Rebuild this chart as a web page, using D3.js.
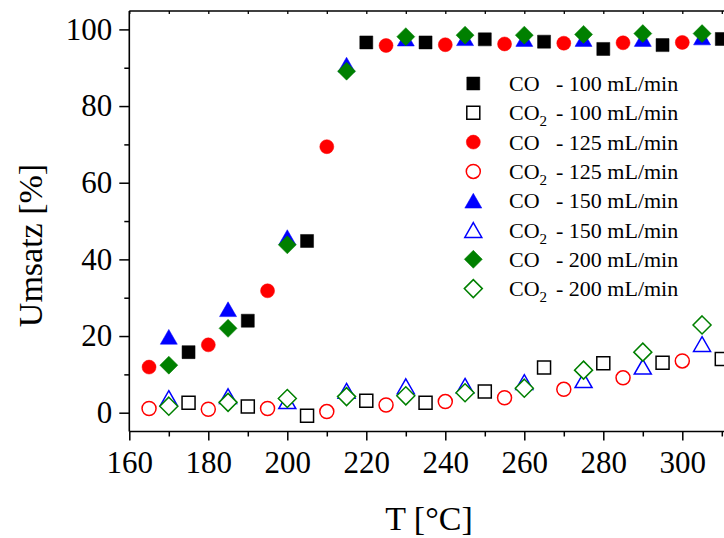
<!DOCTYPE html>
<html>
<head>
<meta charset="utf-8">
<script src="https://cdn.jsdelivr.net/npm/d3@7"></script>
<style>
  html, body { margin: 0; padding: 0; background: #fff; overflow: hidden; }
  svg { display: block; }
  text { font-family: "Liberation Serif", "Times New Roman", Times, serif; fill: #000; }
</style>
</head>
<body>
<svg id="chart" width="724" height="538"></svg>
<script>
// Temperatures (°C) at which each flow rate was measured
const temps100 = [175, 190, 205, 220, 235, 250, 265, 280, 295, 310];
const temps125 = [165, 180, 195, 210, 225, 240, 255, 270, 285, 300];
const temps150 = [170, 185, 200, 215, 230, 245, 260, 275, 290, 305];
const temps200 = [170, 185, 200, 215, 230, 245, 260, 275, 290, 305];

// Conversion (%) of CO and CO2 per flow rate
const co100  = [15.8, 24.0, 44.8, 96.6, 96.6, 97.4, 96.8, 94.9, 95.9, 97.5];
const co2100 = [2.6, 1.6, -0.8, 3.1, 2.6, 5.5, 11.8, 12.9, 13.0, 14.0];
const co125  = [11.9, 17.7, 31.8, 69.4, 95.8, 96.0, 96.2, 96.4, 96.5, 96.6];
const co2125 = [1.1, 0.9, 1.1, 0.3, 2.0, 2.9, 3.9, 6.1, 9.1, 13.5];
const co150  = [19.8, 27.0, 45.8, 90.8, 97.6, 97.7, 97.5, 97.5, 97.5, 97.9];
const co2150 = [3.8, 4.3, 3.0, 5.7, 6.9, 7.0, 8.0, 8.5, 12.0, 17.9];
const co200  = [12.4, 22.0, 43.8, 89.1, 98.1, 98.5, 98.5, 98.7, 98.9, 98.9];
const co2200 = [1.7, 2.7, 3.7, 4.2, 4.4, 5.2, 6.4, 11.1, 15.8, 22.9];

// Axis tick labels
const xTickLabels = [160, 180, 200, 220, 240, 260, 280, 300];
const yTickLabels = [0, 20, 40, 60, 80, 100];

// Series definitions (drawing order = legend order)
const series = [
  { gas: "CO",  flow: "100", t: temps100, v: co100,  shape: "square",   color: "#000000", filled: true },
  { gas: "CO2", flow: "100", t: temps100, v: co2100, shape: "square",   color: "#000000", filled: false },
  { gas: "CO",  flow: "125", t: temps125, v: co125,  shape: "circle",   color: "#ff0000", filled: true },
  { gas: "CO2", flow: "125", t: temps125, v: co2125, shape: "circle",   color: "#ff0000", filled: false },
  { gas: "CO",  flow: "150", t: temps150, v: co150,  shape: "triangle", color: "#0000ff", filled: true },
  { gas: "CO2", flow: "150", t: temps150, v: co2150, shape: "triangle", color: "#0000ff", filled: false },
  { gas: "CO",  flow: "200", t: temps200, v: co200,  shape: "diamond",  color: "#008000", filled: true },
  { gas: "CO2", flow: "200", t: temps200, v: co2200, shape: "diamond",  color: "#008000", filled: false }
];

const svg = d3.select("#chart");

const plotLeft = 129.3, plotTop = 11, plotBottom = 431.5, plotRight = 800;

const x = d3.scaleLinear().domain([160, 300]).range([129.3, 682.3]);
const y = d3.scaleLinear().domain([0, 100]).range([412.7, 29.4]);

// Marker outlines centred on (0,0)
function markerPath(shape) {
  switch (shape) {
    case "square":   return "M-6.5,-6.5H6.5V6.5H-6.5Z";
    case "circle":   return "M7,0A7,7 0 1,1 -7,0A7,7 0 1,1 7,0Z";
    case "triangle": return "M0,-7.4L8.5,7.4L-8.5,7.4Z";
    case "diamond":  return "M0,-9L9,0L0,9L-9,0Z";
  }
}

function styleMarker(sel, s) {
  sel.attr("d", markerPath(s.shape))
     .attr("fill", s.filled ? s.color : "#fff")
     .attr("stroke", s.color)
     .attr("stroke-width", s.filled ? 0.5 : 1.5);
}

// Clip region for the data area
svg.append("defs").append("clipPath").attr("id", "plotClip")
  .append("rect").attr("x", plotLeft).attr("y", plotTop)
  .attr("width", plotRight - plotLeft).attr("height", plotBottom - plotTop);

// Data markers
const dataLayer = svg.append("g").attr("clip-path", "url(#plotClip)");
series.forEach(s => {
  const pts = s.t.map((t, i) => ({ t, v: s.v[i] }));
  dataLayer.append("g").selectAll("path").data(pts).join("path")
    .attr("transform", d => `translate(${x(d.t)},${y(d.v)})`)
    .call(sel => styleMarker(sel, s));
});

// Frame
svg.append("line").attr("x1", plotLeft).attr("x2", plotLeft)
  .attr("y1", plotTop).attr("y2", plotBottom).attr("stroke", "#000").attr("stroke-width", 1.6);
svg.append("line").attr("x1", plotLeft).attr("x2", 724)
  .attr("y1", plotBottom).attr("y2", plotBottom).attr("stroke", "#000").attr("stroke-width", 1.6);
svg.append("line").attr("x1", plotLeft).attr("x2", 724)
  .attr("y1", plotTop).attr("y2", plotTop).attr("stroke", "#000").attr("stroke-width", 1.6);

const xMinor = d3.range(170, 320, 20);
const yMinor = d3.range(10, 110, 20);

// Bottom axis: major ticks with labels, minor ticks without
const xMajorAxis = d3.axisBottom(x).tickValues(xTickLabels).tickSize(9).tickPadding(10).tickFormat(d3.format("d"));
const gxMajor = svg.append("g").attr("transform", `translate(0,${plotBottom})`).call(xMajorAxis);
gxMajor.select(".domain").remove();
gxMajor.selectAll("line").attr("stroke-width", 1.5);
gxMajor.selectAll("text").attr("font-size", 31).attr("fill", "#000").attr("dy", "0.72em");

const gxMinor = svg.append("g").attr("transform", `translate(0,${plotBottom})`)
  .call(d3.axisBottom(x).tickValues(xMinor).tickSize(5).tickFormat(""));
gxMinor.select(".domain").remove();
gxMinor.selectAll("line").attr("stroke-width", 1.5);

// Top edge: short inward ticks
const gxTop = svg.append("g").attr("transform", `translate(0,${plotTop})`)
  .call(d3.axisBottom(x).tickValues(xTickLabels.concat(xMinor)).tickSize(3).tickFormat(""));
gxTop.select(".domain").remove();
gxTop.selectAll("line").attr("stroke-width", 1.3);

// Left axis
const yMajorAxis = d3.axisLeft(y).tickValues(yTickLabels).tickSize(10).tickPadding(7).tickFormat(d3.format("d"));
const gyMajor = svg.append("g").attr("transform", `translate(${plotLeft},0)`).call(yMajorAxis);
gyMajor.select(".domain").remove();
gyMajor.selectAll("line").attr("stroke-width", 1.5);
gyMajor.selectAll("text").attr("font-size", 31).attr("fill", "#000");

const gyMinor = svg.append("g").attr("transform", `translate(${plotLeft},0)`)
  .call(d3.axisLeft(y).tickValues(yMinor).tickSize(5).tickFormat(""));
gyMinor.select(".domain").remove();
gyMinor.selectAll("line").attr("stroke-width", 1.5);

// Axis titles
svg.append("text").attr("x", 429).attr("y", 530).attr("text-anchor", "middle")
  .attr("font-size", 34).text("T [°C]");
svg.append("text").attr("transform", "translate(42,245.5) rotate(-90)")
  .attr("text-anchor", "middle").attr("font-size", 34).text("Umsatz [%]");

// Legend
const legend = svg.append("g");
series.forEach((s, i) => {
  const ry = 83.5 + i * 29.3;
  legend.append("path").attr("transform", `translate(473.3,${ry})`).call(sel => styleMarker(sel, s));
  const lbl = legend.append("text").attr("x", 509).attr("y", ry + 7.5).attr("font-size", 22);
  lbl.append("tspan").text("CO");
  if (s.gas === "CO2") {
    lbl.append("tspan").attr("font-size", 15).attr("dy", 6).text("2");
  }
  legend.append("text").attr("x", 556).attr("y", ry + 7.5).attr("font-size", 22)
    .text(`- ${s.flow} mL/min`);
});
</script>
</body>
</html>
